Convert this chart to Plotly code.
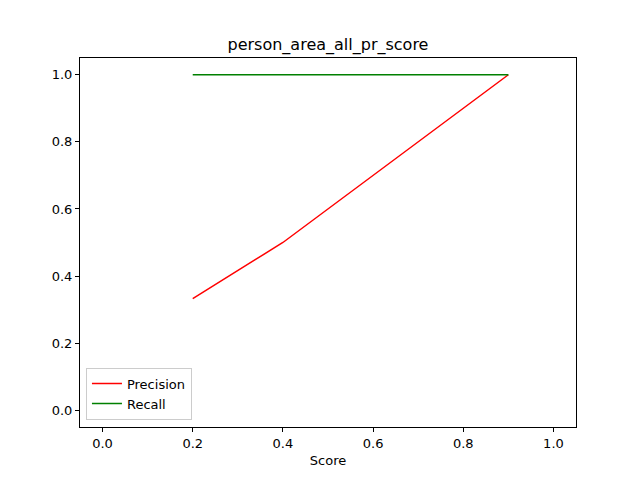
import plotly.graph_objects as go

# values
scores = [0.2, 0.4, 0.9]
precision = [0.333, 0.5, 1.0]
recall = [1.0, 1.0, 1.0]
tick_vals = [0.0, 0.2, 0.4, 0.6, 0.8, 1.0]
tick_text = ['0.0', '0.2', '0.4', '0.6', '0.8', '1.0']

fig = go.Figure()
fig.add_trace(go.Scatter(x=scores, y=precision, mode='lines', name='Precision',
                         line=dict(color='red', width=1.5)))
fig.add_trace(go.Scatter(x=scores, y=recall, mode='lines', name='Recall',
                         line=dict(color='green', width=1.5)))

axis_style = dict(range=[-0.05, 1.05], showgrid=False, zeroline=False,
                  showline=True, linecolor='black', linewidth=1, mirror=True,
                  ticks='outside', ticklen=4, tickcolor='black',
                  tickvals=tick_vals, ticktext=tick_text,
                  tickfont=dict(family='DejaVu Sans', size=13, color='black'))

# the page puts the figure 8px in from the top left, margins account for it
fig.update_layout(
    width=640, height=480,
    margin=dict(l=72, r=72, t=50, b=61),
    paper_bgcolor='white', plot_bgcolor='white',
    title=dict(text='person_area_all_pr_score', x=(328 - 8) / 640, xanchor='center',
               y=1 - 36 / 480, yanchor='middle',
               font=dict(family='DejaVu Sans', size=16, color='black')),
    xaxis=dict(axis_style, title=dict(text='Score', standoff=6,
                                      font=dict(family='DejaVu Sans', size=13, color='black'))),
    yaxis=dict(axis_style),
    legend=dict(x=0.012, y=0.02, xanchor='left', yanchor='bottom',
                bgcolor='rgba(255,255,255,0.8)', bordercolor='#cccccc', borderwidth=1,
                font=dict(family='DejaVu Sans', size=13, color='black'),
                tracegroupgap=0),
    showlegend=True,
)

fig.write_html("out.html")
